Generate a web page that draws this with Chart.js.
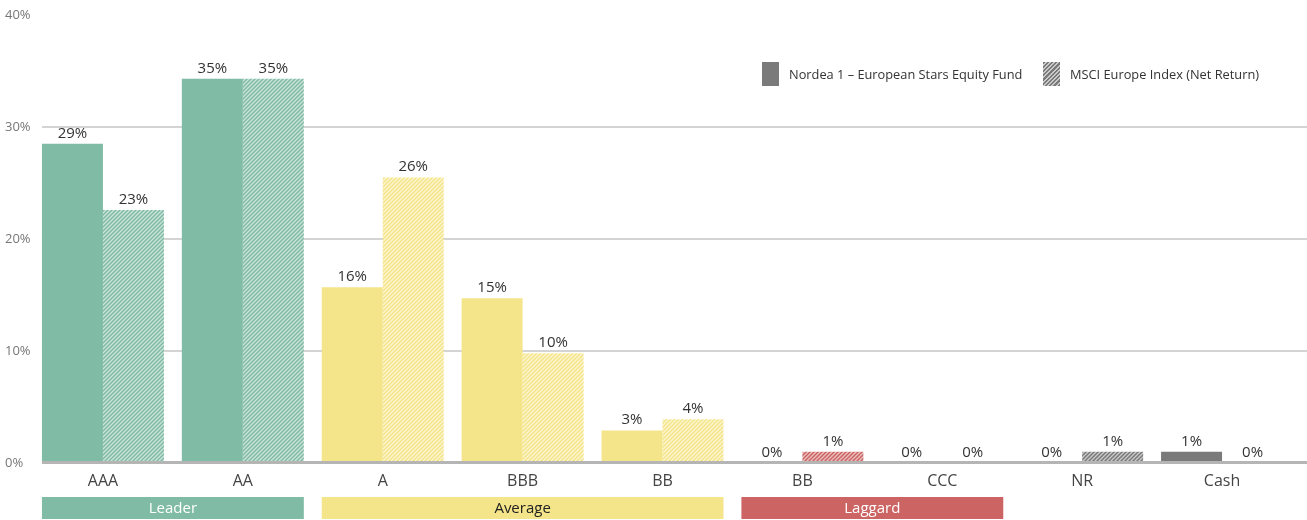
<!DOCTYPE html>
<html>
<head>
<meta charset="utf-8">
<script src="https://cdn.jsdelivr.net/npm/chart.js@4/dist/chart.umd.min.js"></script>
<style>
  html, body { margin: 0; padding: 0; background: #fff; }
  #wrap { position: relative; width: 1307px; height: 520px; font-family: "Open Sans", "Noto Sans", sans-serif; }
  canvas { display: block; }
  .leg { position: absolute; top: 62px; height: 24px; display: flex; align-items: center; font-size: 12.8px; color: #333; white-space: nowrap; }
  .leg .box { width: 17px; height: 24px; margin-right: 10px; }
  .solid { background: #7a7a7a; }
  .hatch { background: repeating-linear-gradient(135deg, #7a7a7a 0 1.6px, #c9c9c9 1.6px 3px); }
</style>
</head>
<body>
<div id="wrap">
  <canvas id="c" width="1307" height="520"></canvas>
  <div class="leg" style="left:762px"><div class="box solid"></div><span id="l1"></span></div>
  <div class="leg" style="left:1043px"><div class="box hatch"></div><span id="l2"></span></div>
</div>
<script>
const categories = ['AAA', 'AA', 'A', 'BBB', 'BB', 'BB', 'CCC', 'NR', 'Cash'];
const fundValues = [28.5, 34.3, 15.7, 14.7, 2.9, 0, 0, 0, 1.0];
const indexValues = [22.6, 34.3, 25.5, 9.8, 3.9, 1.0, 0, 1.0, 0];
const fundLabels = ['29%', '35%', '16%', '15%', '3%', '0%', '0%', '0%', '1%'];
const indexLabels = ['23%', '35%', '26%', '10%', '4%', '1%', '0%', '1%', '0%'];
const seriesNames = ['Nordea 1 \u2013 European Stars Equity Fund', 'MSCI Europe Index (Net Return)'];
const yTicks = [0, 10, 20, 30, 40];
const groupNames = ['Leader', 'Average', 'Laggard'];
const groupFrom = [0, 2, 5];
const groupTo = [1, 4, 6];

const GREEN = '#80bba5', YELLOW = '#f5e58a', RED = '#cd6464', GREY = '#7a7a7a';
const catColors = [GREEN, GREEN, YELLOW, YELLOW, YELLOW, RED, RED, GREY, GREY];
const groupColors = [GREEN, YELLOW, RED];
const groupText = ['#ffffff', '#222222', '#ffffff'];
const FONT = '"Open Sans", "Noto Sans", sans-serif';

document.getElementById('l1').textContent = seriesNames[0];
document.getElementById('l2').textContent = seriesNames[1];

function hatch(color) {
  const c = document.createElement('canvas');
  c.width = 4; c.height = 4;
  const g = c.getContext('2d');
  g.fillStyle = color; g.fillRect(0, 0, 4, 4);
  g.strokeStyle = 'rgba(255,255,255,0.6)';
  g.lineWidth = 1.3;
  g.beginPath();
  g.moveTo(-1, 5); g.lineTo(5, -1);
  g.moveTo(-1, 1); g.lineTo(1, -1);
  g.moveTo(3, 5); g.lineTo(5, 3);
  g.stroke();
  return g.createPattern(c, 'repeat');
}

const overlay = {
  id: 'overlay',
  beforeDatasetsDraw(chart) {
    const ctx = chart.ctx, y = chart.scales.y;
    const m = chart.getDatasetMeta(0);
    const x0 = m.data[0].x - m.data[0].width / 2;
    ctx.save();
    ctx.strokeStyle = '#d4d4d4';
    ctx.lineWidth = 2;
    yTicks.forEach(t => {
      if (t === 0 || t === yTicks[yTicks.length - 1]) return;
      const py = Math.round(y.getPixelForValue(t));
      ctx.beginPath(); ctx.moveTo(x0, py); ctx.lineTo(chart.width, py); ctx.stroke();
    });
    ctx.restore();
  },
  afterDatasetsDraw(chart) {
    const ctx = chart.ctx, y = chart.scales.y;
    const m0 = chart.getDatasetMeta(0), m1 = chart.getDatasetMeta(1);
    const x0 = m0.data[0].x - m0.data[0].width / 2;
    ctx.save();
    const by = y.getPixelForValue(0);
    ctx.strokeStyle = '#b5b5b5';
    ctx.lineWidth = 3;
    ctx.beginPath(); ctx.moveTo(x0, by - 0.5); ctx.lineTo(chart.width, by - 0.5); ctx.stroke();
    ctx.font = '15px ' + FONT;
    ctx.fillStyle = '#333';
    ctx.textAlign = 'center';
    ctx.textBaseline = 'bottom';
    [[m0, fundLabels], [m1, indexLabels]].forEach(([m, labs]) => {
      m.data.forEach((b, i) => {
        ctx.fillText(labs[i], b.x, Math.min(b.y, by) - 3);
      });
    });
    const top = 497, h = 22;
    groupNames.forEach((name, k) => {
      const a = m0.data[groupFrom[k]], b = m1.data[groupTo[k]];
      const l = a.x - a.width / 2, r = b.x + b.width / 2;
      ctx.fillStyle = groupColors[k];
      ctx.fillRect(l, top, r - l, h);
      ctx.fillStyle = groupText[k];
      ctx.textBaseline = 'middle';
      ctx.font = '15px ' + FONT;
      ctx.fillText(name, (l + r) / 2, top + h / 2 + 1);
    });
    ctx.restore();
  }
};

new Chart(document.getElementById('c'), {
  type: 'bar',
  data: {
    labels: categories,
    datasets: [
      { label: seriesNames[0], data: fundValues, backgroundColor: catColors, borderWidth: 0 },
      { label: seriesNames[1], data: indexValues, backgroundColor: catColors.map(hatch), borderWidth: 0 }
    ]
  },
  options: {
    responsive: false,
    devicePixelRatio: 1,
    animation: false,
    layout: { padding: { left: 5, right: 15, top: 15, bottom: 0 } },
    categoryPercentage: 0.872,
    barPercentage: 1.0,
    plugins: { legend: { display: false }, tooltip: { enabled: false } },
    scales: {
      x: {
        offset: true,
        grid: { display: false },
        border: { display: false },
        ticks: { color: '#444', font: { size: 16, family: FONT }, padding: 1 },
        afterFit(s) { s.height = 57; }
      },
      y: {
        min: 0, max: 40,
        grid: { display: false },
        border: { display: false },
        ticks: { stepSize: 10, callback: v => v + '%', color: '#777', font: { size: 13, family: FONT }, crossAlign: 'far' },
        afterFit(s) { s.width = 28; }
      }
    }
  },
  plugins: [overlay]
});
</script>
</body>
</html>
